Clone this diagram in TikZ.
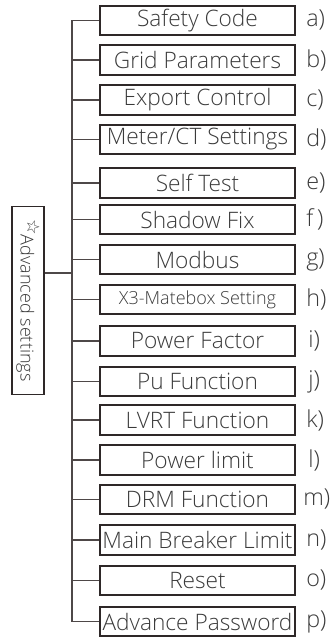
\documentclass[tikz,border=0pt]{standalone}
\usepackage{fontspec}
\setmainfont{Open Sans}[UprightFont={* Light}]
\newfontfamily\symfont{DejaVu Sans}
\definecolor{boxline}{HTML}{2E2828}
\definecolor{wireline}{HTML}{4E4848}
\definecolor{ink}{HTML}{3A3A3A}
\tikzset{
  menu/.style={draw=boxline, line width=1.3pt, text=ink, minimum width=146pt, minimum height=22pt, inner sep=0pt, font=\fontsize{17}{19}\selectfont},
  tag/.style={anchor=west, text=ink, inner sep=0pt, font=\fontsize{17.5}{19}\selectfont},
  wire/.style={draw=wireline, line width=0.9pt}
}

\begin{document}
\begin{tikzpicture}[x=0.75pt, y=-0.75pt]
\useasboundingbox (0,0) rectangle (331,638);

\node[draw=boxline, line width=1.3pt, rotate=-90, minimum width=141pt, minimum height=23.5pt, inner sep=0pt, text=ink, font=\fontsize{13.5}{15}\selectfont] (advanced) at (28,300.5) {{\symfont\fontsize{13}{13}\selectfont\raisebox{0.7ex}{☆}}Advanced settings};

\node[menu] (safety) at (197.5,20.5) {Safety Code};
\node[menu] (grid) at (197.5,60) {Grid Parameters};
\node[menu] (export) at (197.5,100) {Export Control};
\node[menu] (meter) at (197.5,139.5) {Meter/CT Settings};
\node[menu] (selftest) at (197.5,183) {Self Test};
\node[menu] (shadow) at (197.5,219.5) {Shadow Fix};
\node[menu] (modbus) at (197.5,259.5) {Modbus};
\node[menu, font=\fontsize{13.5}{15}\selectfont] (matebox) at (197.5,299.5) {X3-Matebox Setting};
\node[menu] (pfactor) at (197.5,341) {Power Factor};
\node[menu] (pufunc) at (197.5,381.5) {Pu Function};
\node[menu] (lvrt) at (197.5,420) {LVRT Function};
\node[menu] (plimit) at (197.5,460) {Power limit};
\node[menu] (drm) at (197.5,499.5) {DRM Function};
\node[menu] (breaker) at (197.5,540) {Main Breaker Limit};
\node[menu] (reset) at (197.5,580.5) {Reset};
\node[menu] (password) at (197.5,621.5) {Advance Password};

% letters
\node[tag] (taga) at (306,20.5) {a)};
\node[tag] (tagb) at (306,60) {b)};
\node[tag] (tagc) at (306,100) {c)};
\node[tag] (tagd) at (306,139.5) {d)};
\node[tag] (tage) at (306,183) {e)};
\node[tag] (tagf) at (306,219.5) {f\,)};
\node[tag] (tagg) at (306,259.5) {g)};
\node[tag] (tagh) at (306,299.5) {h)};
\node[tag] (tagi) at (308,341) {i)};
\node[tag] (tagj) at (308,381.5) {j)};
\node[tag] (tagk) at (306,420) {k)};
\node[tag] (tagl) at (308,460) {l)};
\node[tag] (tagm) at (303,499.5) {m)};
\node[tag] (tagn) at (306,540) {n)};
\node[tag] (tago) at (306,580.5) {o)};
\node[tag] (tagp) at (306,621.5) {p)};

% tree
\coordinate (spine) at (72,0);
\coordinate (join) at (72,273);
\draw[wire] (spine |- safety.west) -- (spine |- password.west);
\draw[wire] (join) -- (join -| advanced.north);

\draw[wire] (safety.west) -- (safety.west -| spine);
\draw[wire] (grid.west) -- (grid.west -| spine);
\draw[wire] (export.west) -- (export.west -| spine);
\draw[wire] (meter.west) -- (meter.west -| spine);
\draw[wire] (selftest.west) -- (selftest.west -| spine);
\draw[wire] (shadow.west) -- (shadow.west -| spine);
\draw[wire] (modbus.west) -- (modbus.west -| spine);
\draw[wire] (matebox.west) -- (matebox.west -| spine);
\draw[wire] (pfactor.west) -- (pfactor.west -| spine);
\draw[wire] (pufunc.west) -- (pufunc.west -| spine);
\draw[wire] (lvrt.west) -- (lvrt.west -| spine);
\draw[wire] (plimit.west) -- (plimit.west -| spine);
\draw[wire] (drm.west) -- (drm.west -| spine);
\draw[wire] (breaker.west) -- (breaker.west -| spine);
\draw[wire] (reset.west) -- (reset.west -| spine);
\draw[wire] (password.west) -- (password.west -| spine);

\end{tikzpicture}
\end{document}
